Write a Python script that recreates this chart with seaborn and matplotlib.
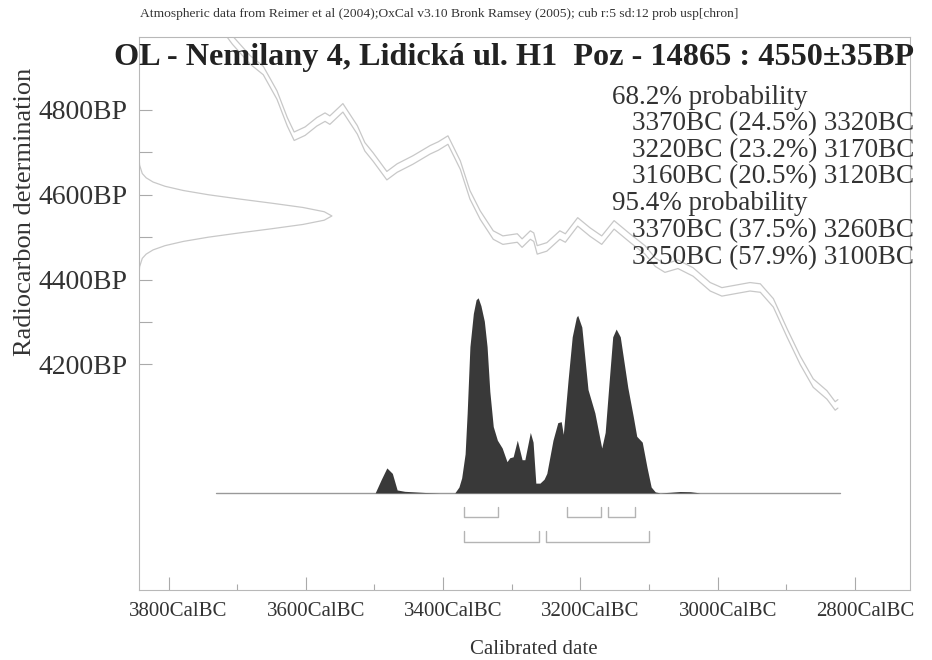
import numpy as np
import seaborn as sns
import matplotlib.pyplot as plt
from matplotlib.ticker import FixedLocator, NullFormatter
from matplotlib.transforms import ScaledTranslation

# calibration curve centre line (cal BC, radiocarbon BP)
curve_bc = [3722, 3707, 3681, 3662, 3642, 3627, 3617, 3601, 3584, 3572, 3565,
            3546, 3525, 3514, 3502, 3482, 3467, 3444, 3419, 3407, 3393, 3375,
            3361, 3346, 3327, 3313, 3292, 3285, 3273, 3268, 3263, 3249, 3230,
            3222, 3204, 3186, 3169, 3151, 3128, 3106, 3091, 3077, 3058, 3036,
            3011, 2994, 2953, 2938, 2919, 2899, 2880, 2861, 2841, 2829, 2825]
curve_bp = [4998, 4965, 4918, 4893, 4835, 4772, 4738, 4750, 4772, 4783, 4776,
            4805, 4753, 4713, 4689, 4645, 4663, 4682, 4706, 4715, 4729, 4670,
            4600, 4552, 4505, 4493, 4498, 4486, 4505, 4500, 4470, 4477, 4505,
            4498, 4536, 4512, 4493, 4529, 4498, 4470, 4441, 4427, 4436, 4418,
            4383, 4371, 4383, 4380, 4345, 4274, 4210, 4156, 4128, 4102, 4107]
curve_err = 10

# radiocarbon date 4550 +- 35 BP, shape
rc_bp = [4690, 4670, 4650, 4640, 4630, 4620, 4610, 4600, 4590, 4580, 4570,
         4560, 4550, 4540, 4530, 4520, 4510, 4500, 4490, 4480, 4470, 4460,
         4450, 4430, 4410]
rc_h = [0.0, 0.003, 0.017, 0.037, 0.073, 0.135, 0.23, 0.36, 0.52, 0.69, 0.85,
        0.96, 1.0, 0.96, 0.85, 0.69, 0.52, 0.36, 0.23, 0.135, 0.073, 0.037,
        0.017, 0.003, 0.0]

# calibrated probability distribution (relative)
dist_bc = [3731, 3499, 3490, 3482, 3474, 3467, 3456, 3441, 3426, 3405, 3383,
           3377, 3373, 3368, 3365, 3361, 3356, 3352, 3349, 3345, 3340, 3336,
           3332, 3327, 3321, 3314, 3307, 3303, 3298, 3292, 3285, 3281, 3273,
           3269, 3265, 3259, 3253, 3249, 3240, 3233, 3228, 3225, 3218, 3212,
           3206, 3204, 3198, 3189, 3179, 3169, 3164, 3158, 3153, 3148, 3142,
           3131, 3123, 3118, 3110, 3103, 3097, 3091, 3084, 3070, 3055, 3040,
           3026, 2822]
dist_p = [0, 0, 0.07, 0.128, 0.10, 0.015, 0.008, 0.005, 0.002, 0, 0,
          0.03, 0.077, 0.2, 0.41, 0.75, 0.92, 0.99, 1.0, 0.96, 0.88, 0.75,
          0.52, 0.34, 0.27, 0.23, 0.16, 0.18, 0.185, 0.27, 0.17, 0.17, 0.31,
          0.26, 0.05, 0.05, 0.07, 0.10, 0.27, 0.36, 0.365, 0.30, 0.58, 0.80,
          0.90, 0.91, 0.85, 0.53, 0.41, 0.23, 0.31, 0.58, 0.80, 0.84, 0.80,
          0.54, 0.39, 0.29, 0.26, 0.13, 0.03, 0.005, 0, 0.003, 0.007, 0.006,
          0, 0]

# ranges
range68 = [(3370, 3320), (3220, 3170), (3160, 3120)]
range95 = [(3370, 3260), (3250, 3100)]

title = "OL - Nemilany 4, Lidická ul. H1  Poz - 14865 : 4550±35BP"
subtitle = ("Atmospheric data from Reimer et al (2004);OxCal v3.10 Bronk Ramsey "
            "(2005); cub r:5 sd:12 prob usp[chron]")
prob_lines = ["68.2% probability",
              "3370BC (24.5%) 3320BC",
              "3220BC (23.2%) 3170BC",
              "3160BC (20.5%) 3120BC",
              "95.4% probability",
              "3370BC (37.5%) 3260BC",
              "3250BC (57.9%) 3100BC"]
prob_indent = [0, 1, 1, 1, 0, 1, 1]

xticks_major = [3800, 3600, 3400, 3200, 3000, 2800]
xticks_minor = [3700, 3500, 3300, 3100, 2900]
xtick_labels = ["3800CalBC", "3600CalBC", "3400CalBC", "3200CalBC",
                "3000CalBC", "2800CalBC"]
yticks_major = [4800, 4600, 4400, 4200]
yticks_minor = [4700, 4500, 4300]
ytick_labels = ["4800BP", "4600BP", "4400BP", "4200BP"]

sns.set_theme(style="white")
plt.rcParams['font.family'] = ['Liberation Serif', 'DejaVu Serif']

W, H = 932, 660


def fx(x):
    return x / W


def fy(y):
    return 1 - y / H


fig = plt.figure(figsize=(W / 100, H / 100), dpi=100)
ax = fig.add_axes([fx(139), fy(590), (910 - 139) / W, (590 - 37) / H])
ax.set_xlim(3843, 2720)
ax.set_ylim(3668, 4972)

grey = "#c8c8c8"
cb = np.array(curve_bc)
cp = np.array(curve_bp)
sns.lineplot(x=cb, y=cp + curve_err, ax=ax, sort=False, estimator=None,
             color=grey, lw=0.9)
sns.lineplot(x=cb, y=cp - curve_err, ax=ax, sort=False, estimator=None,
             color=grey, lw=0.9)

# radiocarbon gaussian hanging from the y axis
rc_width = 281
sns.lineplot(x=3843 - np.array(rc_h) * rc_width, y=rc_bp, ax=ax, sort=False,
             estimator=None, color=grey, lw=0.9)

# calibrated distribution
base = 3897
scale = 460
dp = base + np.array(dist_p) * scale
ax.fill_between(dist_bc, base, dp, color="#393939", lw=0, zorder=3)
ax.plot([dist_bc[0], dist_bc[-1]], [base, base], color="#999999", lw=1,
        zorder=2)

# range brackets
for rows, (top, bot) in [(range68, (3864, 3840)), (range95, (3807, 3781))]:
    for s, e in rows:
        ax.plot([s, s, e, e], [top, bot, bot, top], color="#b4b4b4", lw=1)

ax.xaxis.set_major_locator(FixedLocator(xticks_major))
ax.xaxis.set_minor_locator(FixedLocator(xticks_minor))
ax.set_xticklabels(xtick_labels)
ax.yaxis.set_major_locator(FixedLocator(yticks_major))
ax.yaxis.set_minor_locator(FixedLocator(yticks_minor))
ax.set_yticklabels(ytick_labels)
ax.xaxis.set_minor_formatter(NullFormatter())
ax.yaxis.set_minor_formatter(NullFormatter())

ax.tick_params(axis="x", which="major", direction="in", length=9.5, width=0.8,
               color="#aaaaaa", labelsize=15, pad=9, labelcolor="#333333",
               bottom=True)
ax.tick_params(axis="x", which="minor", direction="in", length=4.5, width=0.8,
               color="#aaaaaa", bottom=True)
ax.tick_params(axis="y", which="both", direction="in", length=9, width=0.8,
               color="#aaaaaa", labelsize=20, pad=8, labelcolor="#333333",
               left=True)
shift = ScaledTranslation(10 / 100, 0, fig.dpi_scale_trans)
for lab in ax.get_xticklabels():
    lab.set_transform(lab.get_transform() + shift)
for sp in ax.spines.values():
    sp.set_color("#b8b8b8")
    sp.set_linewidth(0.8)
ax.grid(False)

fig.text(fx(140), fy(14), subtitle, fontsize=9.7, color="#333333",
         ha="left", va="center")
fig.text(fx(514), fy(57), title, fontsize=23.2, fontweight="bold",
         color="#222222", ha="center", va="center")
for i, line in enumerate(prob_lines):
    fig.text(fx(612 + 20 * prob_indent[i]), fy(97 + i * 26.7), line,
             fontsize=19.5, color="#333333", ha="left", va="center")
fig.text(fx(25), fy(212), "Radiocarbon determination", fontsize=19,
         rotation=90, color="#333333", ha="center", va="center")
fig.text(fx(534), fy(650), "Calibrated date", fontsize=15, color="#333333",
         ha="center", va="center")

fig.savefig("out.png", dpi=100)
